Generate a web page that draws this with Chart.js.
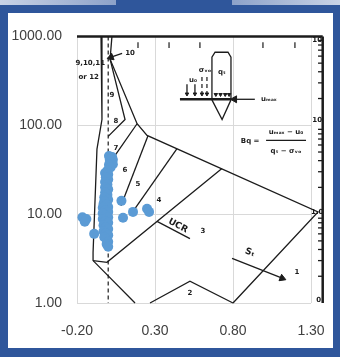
<!DOCTYPE html>
<html>
<head>
<meta charset="utf-8">
<script src="https://cdn.jsdelivr.net/npm/chart.js@4.4.0/dist/chart.umd.min.js"></script>
<style>
    body { margin: 0; width: 340px; height: 357px; background: #2f569b; position: relative; overflow: hidden; }
    .stripL { position: absolute; left: 0; top: 0; width: 116px; height: 5px; background: linear-gradient(to right, #c9d3e6, #8da2c9); }
    .stripR { position: absolute; right: 0; top: 0; width: 108px; height: 5px; background: linear-gradient(to right, #8da2c9, #c9d3e6); }
    .panel { position: absolute; left: 8px; top: 13px; width: 325px; height: 335px; background: #fff; }
</style>
</head>
<body>
<div class="stripL"></div>
<div class="stripR"></div>
<div class="panel"><canvas id="BQ_CHART"></canvas></div>
<script>
// overlay axes
const xTicks = [-0.2, 0.3, 0.8, 1.3];
const yTicks = [1, 10, 100, 1000];

// CPT points (Bq, Qt)
const bq = [0.005, 0.025, 0.03, 0.01, 0.02, 0.03, 0.005, 0.015,
    -0.005, -0.02, 0.0, -0.015, 0.0, -0.02, -0.005, -0.02, 0.0, -0.02, -0.005, -0.025, 0.0, -0.025,
    -0.03, -0.01, 0.0, -0.035, -0.02, 0.0, -0.035, -0.015, 0.0, -0.035, -0.02, 0.0, -0.03, -0.015,
    0.0, -0.03, -0.015, 0.0, -0.025, -0.01, 0.0, -0.01, 0.0,
    -0.165, -0.14, -0.15, -0.09, 0.085, 0.095, 0.159, 0.249, 0.262];
const qt = [45, 44, 41, 41, 38, 36.5, 36, 33.5,
    31, 29, 28, 26, 24.5, 23, 21.5, 20, 19, 17.5, 16.5, 15.5, 14.5, 14,
    13, 12.8, 12, 11.8, 11, 10.6, 10.2, 9.6, 9.2, 8.8, 8.3, 8, 7.5, 7.1,
    6.8, 6.4, 6.1, 5.8, 5.5, 5.2, 4.9, 4.6, 4.3,
    9.2, 8.8, 8.2, 6.0, 14.1, 9.1, 10.6, 11.5, 10.6];

// lines of the scanned Robertson (1990) Bq chart, traced in Bq / Qt units
const zoneLines = [
    [[-0.046, 1000], [-0.04, 116], [-0.072, 54], [-0.097, 3.7], [-0.097, 3.0], [0.172, 1]],
    [[-0.097, 3.0], [-0.008, 2.87], [0.729, 32.6]],
    [[0.024, 1000], [0.012, 554], [0.185, 104], [0.249, 77], [1.345, 10.6], [0.8, 1]],
    [[0.012, 554], [0.108, 116], [0.0, 75]],
    [[0.185, 104], [0.031, 42.5], [0.012, 35]],
    [[0.255, 76], [0.082, 12.4]],
    [[0.441, 54.5], [0.14, 9.6]],
    [[0.268, 1], [0.524, 1.76], [0.8, 1]],
    [[0.313, 8.3], [0.524, 5.3]],
    [[0.794, 3.18], [1.115, 1.9]],
    [[0.018, 583], [0.089, 646]],
    // cone sketch
    [[0.665, 193], [0.665, 583], [0.685, 663], [0.768, 663], [0.787, 583], [0.787, 193]],
    [[0.665, 193], [0.73, 116], [0.787, 193]],
    [[0.94, 196], [0.81, 196]],
    [[0.505, 290], [0.505, 228]],
    [[0.556, 290], [0.556, 228]],
    [[1.012, 67.5], [1.268, 67.5]]
];
const dashedLines = [
    [[0, 1000], [0, 1]],
    [[0.601, 350], [0.601, 228]],
    [[0.633, 350], [0.633, 228]]
];
const thickLines = [
    [[-0.2, 1000], [1.375, 1000]],
    [[1.375, 1000], [1.375, 1]],
    [[0.46, 196], [0.787, 196]]
];
const scanAxisTicks = [2, 3, 4, 5, 6, 7, 8, 9, 20, 30, 40, 50, 60, 70, 80, 90, 200, 300, 400, 500, 600, 700, 800, 900];
const topTicks = [0.191, 0.39, 0.588, 0.992, 1.197];
// arrow heads: x, y, direction
const arrowHeads = [[1.115, 1.9, 112], [0.018, 583, 250], [0.81, 196, 270]];
const smallArrows = [[0.505, 225], [0.556, 225], [0.601, 225], [0.633, 225], [0.69, 222], [0.72, 222], [0.75, 222], [0.775, 222]];

const scanLabels = [
    ['10', 0.14, 646], ['9,10,11', -0.115, 500], ['or 12', -0.125, 345],
    ['9', 0.024, 220], ['8', 0.05, 110], ['7', 0.05, 55], ['6', 0.108, 31], ['5', 0.191, 21.8],
    ['4', 0.326, 14.5], ['3', 0.608, 6.5], ['2', 0.524, 1.29], ['1', 1.21, 2.22],
    ['10', 1.34, 900], ['10', 1.34, 115], ['1.0', 1.34, 10.6], ['0', 1.35, 1.08],
    ['uₘₐₓ − u₀', 1.14, 83], ['qₜ − σᵥₒ', 1.14, 51], ['Bq =', 0.91, 66],
    ['u₀', 0.544, 323], ['σᵥₒ', 0.62, 418], ['qₜ', 0.729, 397], ['uₘₐₓ', 1.03, 196]
];
const tiltedLabels = [['UCR', 0.447, 7.4, 28], ['Sₜ', 0.909, 3.7, 20]];

function toPts(line) {
    return line.map(p => ({ x: p[0], y: p[1] }));
}
function lineSet(line, width, dash) {
    return {
        data: toPts(line), showLine: true, pointRadius: 0, borderColor: '#1c1c1c',
        borderWidth: width, borderDash: dash || [], clip: false, order: 2
    };
}

const scanText = {
    id: 'scanText',
    beforeDatasetsDraw(chart) {
        const { ctx, scales: { x, y } } = chart;
        ctx.save();
        ctx.fillStyle = '#1c1c1c';
        ctx.textAlign = 'center';
        ctx.textBaseline = 'middle';
        ctx.font = 'bold 7px "DejaVu Sans"';
        scanLabels.forEach(l => ctx.fillText(l[0], x.getPixelForValue(l[1]), y.getPixelForValue(l[2])));
        ctx.font = 'bold 9px "DejaVu Sans"';
        tiltedLabels.forEach(l => {
            ctx.save();
            ctx.translate(x.getPixelForValue(l[1]), y.getPixelForValue(l[2]));
            ctx.rotate(l[3] * Math.PI / 180);
            ctx.fillText(l[0], 0, 0);
            ctx.restore();
        });
        ctx.restore();
    }
};

const datasets = [{
    label: 'CPT',
    data: bq.map((v, i) => ({ x: v, y: qt[i] })),
    backgroundColor: '#5b9bd5',
    borderColor: '#5b9bd5',
    borderWidth: 0,
    pointRadius: 5,
    order: 0
}];
zoneLines.forEach(l => datasets.push(lineSet(l, 1.3)));
dashedLines.forEach(l => datasets.push(lineSet(l, 1.2, [4, 3])));
thickLines.forEach(l => datasets.push(lineSet(l, 2.5)));
scanAxisTicks.forEach(v => datasets.push(lineSet([[1.345, v], [1.375, v]], 1.3)));
topTicks.forEach(v => datasets.push(lineSet([[v, 860], [v, 740]], 1.2)));
datasets.push({
    data: arrowHeads.map(a => ({ x: a[0], y: a[1] })),
    pointStyle: 'triangle', pointRadius: 4, rotation: arrowHeads.map(a => a[2]),
    backgroundColor: '#1c1c1c', borderColor: '#1c1c1c', clip: false, order: 1
});
datasets.push({
    data: smallArrows.map(a => ({ x: a[0], y: a[1] })),
    pointStyle: 'triangle', pointRadius: 2, rotation: 180,
    backgroundColor: '#1c1c1c', borderColor: '#1c1c1c', clip: false, order: 1
});

const bqChart = new Chart(document.getElementById('BQ_CHART').getContext('2d'), {
    type: 'scatter',
    data: { datasets: datasets },
    options: {
        responsive: true,
        maintainAspectRatio: false,
        animation: false,
        layout: { padding: { top: 21, right: 22, left: 0, bottom: 0 } },
        plugins: { legend: { display: false }, tooltip: { enabled: false } },
        scales: {
            x: {
                type: 'linear', min: -0.2, max: 1.3,
                afterBuildTicks: s => { s.ticks = xTicks.map(v => ({ value: v })); },
                afterFit: s => { s.height = 45; },
                grid: { color: '#d9d9d9', drawTicks: true, tickLength: 17, tickColor: 'rgba(0,0,0,0)' },
                border: { display: false },
                ticks: {
                    padding: 3, color: '#404040', maxRotation: 0,
                    font: { family: '"Liberation Sans", Arial', size: 14 },
                    callback: v => v.toFixed(2)
                }
            },
            y: {
                type: 'logarithmic', min: 1, max: 1000,
                afterBuildTicks: s => { s.ticks = yTicks.map(v => ({ value: v })); },
                afterFit: s => { s.width = 69; },
                grid: { color: '#d9d9d9', drawTicks: false },
                border: { display: false },
                ticks: {
                    padding: 15, color: '#404040',
                    font: { family: '"Liberation Sans", Arial', size: 14 },
                    callback: v => Number(v).toFixed(2)
                }
            }
        }
    },
    plugins: [scanText]
});
</script>
</body>
</html>
